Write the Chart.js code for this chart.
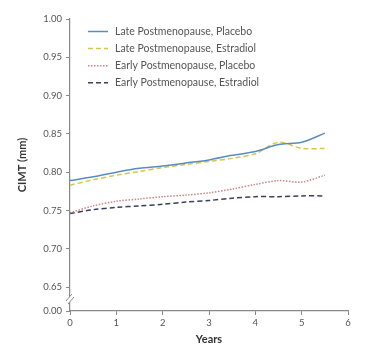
<!DOCTYPE html>
<html><head><meta charset="utf-8">
<script src="https://cdn.jsdelivr.net/npm/chart.js@4/dist/chart.umd.min.js"></script>
<style>html,body{margin:0;padding:0;background:#fff;}canvas{display:block;}</style>
</head><body>
<canvas id="c" width="368" height="348"></canvas>
<script>
const years = [0, 0.5, 1, 1.5, 2, 2.5, 3, 3.5, 4, 4.5, 5, 5.5];
const latePlacebo   = [0.789, 0.794, 0.800, 0.805, 0.808, 0.812, 0.816, 0.822, 0.827, 0.836, 0.839, 0.851];
const lateEstradiol = [0.783, 0.790, 0.796, 0.801, 0.806, 0.810, 0.814, 0.818, 0.824, 0.839, 0.831, 0.831];
const earlyPlacebo  = [0.747, 0.756, 0.762, 0.765, 0.768, 0.770, 0.773, 0.778, 0.784, 0.789, 0.787, 0.796];
const earlyEstradiol= [0.746, 0.751, 0.754, 0.756, 0.758, 0.761, 0.763, 0.766, 0.768, 0.768, 0.769, 0.769];
const seriesLabels = ['Late Postmenopause, Placebo','Late Postmenopause, Estradiol','Early Postmenopause, Placebo','Early Postmenopause, Estradiol'];
const yTickValues = [0.65, 0.70, 0.75, 0.80, 0.85, 0.90, 0.95, 1.00];
const yBreakLabel = '0.00';
const xTickValues = [0, 1, 2, 3, 4, 5, 6];
const Y_MIN = 0.6187, Y_MAX = 1.00;

const FONT = 'Lato, "Open Sans", sans-serif';
const pts = arr => years.map((x, i) => ({x, y: arr[i]}));
const styles = [
  {color:'#5a8cc4', dash:[]},
  {color:'#d9c54a', dash:[5,3]},
  {color:'#c98585', dash:[1.5,1.5]},
  {color:'#3b3f5e', dash:[5,3]}
];
const datasets = [latePlacebo, lateEstradiol, earlyPlacebo, earlyEstradiol].map((arr, i) => ({
  label: seriesLabels[i], data: pts(arr), borderColor: styles[i].color, borderDash: styles[i].dash,
  borderWidth: 1.5, pointRadius: 0, fill: false, tension: 0.3
}));

const extras = {
  id: 'extras',
  afterDraw(chart) {
    const ctx = chart.ctx, ca = chart.chartArea, ys = chart.scales.y;
    // axis break mark
    const yb = ys.getPixelForValue((Y_MIN + 0.65) / 2);
    const x = ca.left;
    ctx.save();
    ctx.fillStyle = '#fff';
    ctx.beginPath();
    ctx.moveTo(x - 4, yb + 2); ctx.lineTo(x + 2, yb - 5); ctx.lineTo(x + 4, yb - 2); ctx.lineTo(x - 2, yb + 5); ctx.closePath();
    ctx.fill();
    ctx.strokeStyle = '#888'; ctx.lineWidth = 1;
    ctx.beginPath();
    ctx.moveTo(x - 4, yb + 2); ctx.lineTo(x + 2, yb - 5);
    ctx.moveTo(x - 2, yb + 5); ctx.lineTo(x + 4, yb - 2);
    ctx.stroke();
    // legend
    ctx.font = '10.5px ' + FONT;
    ctx.textBaseline = 'middle';
    chart.data.datasets.forEach((ds, i) => {
      const ly = 31.5 + i * 17.1;
      ctx.strokeStyle = ds.borderColor; ctx.lineWidth = 1.5; ctx.setLineDash(ds.borderDash);
      ctx.beginPath(); ctx.moveTo(88, ly); ctx.lineTo(108, ly); ctx.stroke();
      ctx.setLineDash([]);
      ctx.fillStyle = '#555';
      ctx.fillText(ds.label, 115, ly);
    });
    ctx.restore();
  }
};

new Chart(document.getElementById('c'), {
  type: 'line',
  data: { datasets },
  options: {
    responsive: false, animation: false,
    layout: { padding: { left: 0, top: 19, right: 20, bottom: 0 } },
    plugins: { legend: { display: false }, tooltip: { enabled: false } },
    scales: {
      x: {
        type: 'linear', min: 0, max: 6,
        afterBuildTicks: s => { s.ticks = xTickValues.map(v => ({value: v})); },
        afterFit: s => { s.height = 37; },
        grid: { drawOnChartArea: false, drawTicks: true, tickLength: 4, color: '#888' },
        border: { display: true, color: '#888', width: 1.2 },
        ticks: { color: '#555', font: { size: 9.5, family: FONT }, padding: 2, maxRotation: 0 },
        title: { display: true, text: 'Years', color: '#333', font: { size: 11, weight: 'bold', family: FONT }, padding: { top: 0, bottom: 1.5 } }
      },
      y: {
        type: 'linear', min: Y_MIN, max: Y_MAX,
        afterBuildTicks: s => { s.ticks = [Y_MIN].concat(yTickValues).map(v => ({value: v})); },
        afterFit: s => { s.width = 70; },
        grid: { drawOnChartArea: false, drawTicks: true, tickLength: 4, color: '#888' },
        border: { display: true, color: '#888', width: 1.2 },
        ticks: { color: '#555', font: { size: 9.5, family: FONT }, padding: 4,
          callback: v => (Math.abs(v - Y_MIN) < 1e-6 ? yBreakLabel : v.toFixed(2)) },
        title: { display: true, text: 'CIMT (mm)', color: '#333', font: { size: 11, weight: 'bold', family: FONT }, padding: { top: 15.4, bottom: 0 } }
      }
    }
  },
  plugins: [extras]
});
</script>
</body></html>
